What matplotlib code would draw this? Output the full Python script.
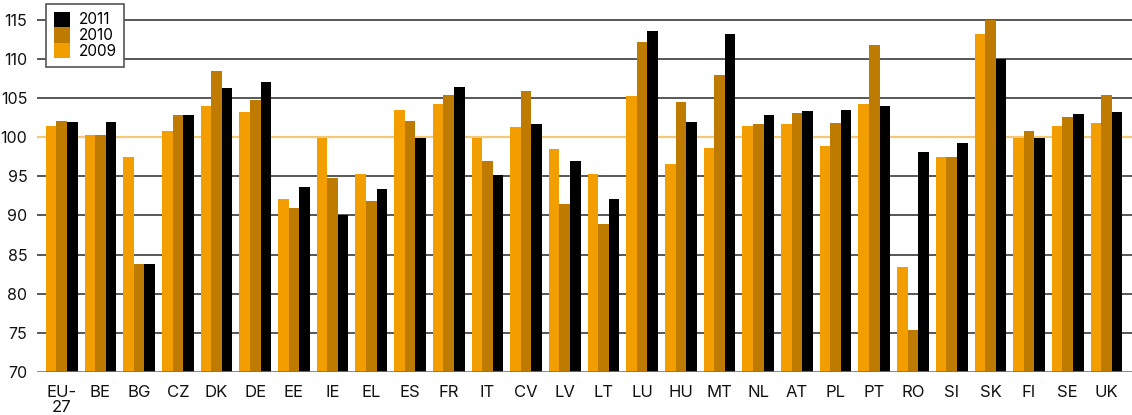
import numpy as np
import matplotlib.pyplot as plt

plt.rcParams['font.family'] = ['Inter', 'DejaVu Sans']

countries = ["EU-\n27", "BE", "BG", "CZ", "DK", "DE", "EE", "IE", "EL", "ES",
             "FR", "IT", "CV", "LV", "LT", "LU", "HU", "MT", "NL", "AT",
             "PL", "PT", "RO", "SI", "SK", "FI", "SE", "UK"]

v2009 = [101.4, 100.3, 97.5, 100.8, 104.0, 103.2, 92.1, 99.9, 95.3, 103.5,
         104.2, 99.9, 101.3, 98.5, 95.3, 105.2, 96.6, 98.6, 101.4, 101.6,
         98.8, 104.2, 83.4, 97.5, 113.1, 99.9, 101.4, 101.8]
v2010 = [102.1, 100.3, 83.8, 102.8, 108.4, 104.7, 90.9, 94.8, 91.8, 102.1,
         105.4, 96.9, 105.9, 91.5, 88.9, 112.1, 104.5, 107.9, 101.7, 103.1,
         101.8, 111.8, 75.3, 97.5, 114.9, 100.8, 102.6, 105.4]
v2011 = [101.9, 101.9, 83.8, 102.8, 106.2, 107.0, 93.6, 90.0, 93.4, 99.9,
         106.4, 95.1, 101.7, 97.0, 92.1, 113.5, 101.9, 113.2, 102.8, 103.3,
         103.5, 104.0, 98.1, 99.2, 110.0, 99.9, 103.0, 103.2]

c2009 = "#F39E00"
c2010 = "#BF7B00"
c2011 = "#000000"

fig = plt.figure(figsize=(11.32, 4.15), dpi=100)
ax = fig.add_axes([0.0327, 0.1036, 0.9673, 0.855])

x = np.arange(len(countries))
w = 0.273
ax.bar(x - w, np.array(v2009) - 70, w, bottom=70, color=c2009, label="2009", zorder=3)
ax.bar(x, np.array(v2010) - 70, w, bottom=70, color=c2010, label="2010", zorder=3)
ax.bar(x + w, np.array(v2011) - 70, w, bottom=70, color=c2011, label="2011", zorder=3)

# gridlines
for yv in range(75, 116, 5):
    if yv == 100:
        ax.axhline(yv, color="#F5C878", lw=1.6, zorder=1)
    else:
        ax.axhline(yv, color="#2a2a2a", lw=1.1, zorder=1)
ax.axhline(70, color="#777777", lw=1.2, zorder=4)

ax.set_xlim(-0.64, 27.66)
ax.set_ylim(70, 115.3)
ax.set_yticks(range(70, 116, 5))
ax.set_xticks(x)
ax.set_xticklabels(countries, linespacing=1.0)
ax.tick_params(axis="y", length=0, pad=7, labelsize=11.5, colors="#111111")
ax.tick_params(axis="x", length=0, pad=9.5, labelsize=12, colors="#111111")
for s in ax.spines.values():
    s.set_visible(False)

h, l = ax.get_legend_handles_labels()
leg = ax.legend(h[::-1], l[::-1], loc="upper left", bbox_to_anchor=(0.0082, 1.037),
                fontsize=11, frameon=True, fancybox=False, handlelength=1.1,
                handleheight=1.15, handletextpad=0.55, labelspacing=0.0,
                borderpad=0.5, borderaxespad=0)
leg.get_frame().set_edgecolor("#555555")
leg.get_frame().set_linewidth(1.2)
leg.get_frame().set_alpha(1)
leg.set_zorder(5)

fig.savefig("out.png", dpi=100)
